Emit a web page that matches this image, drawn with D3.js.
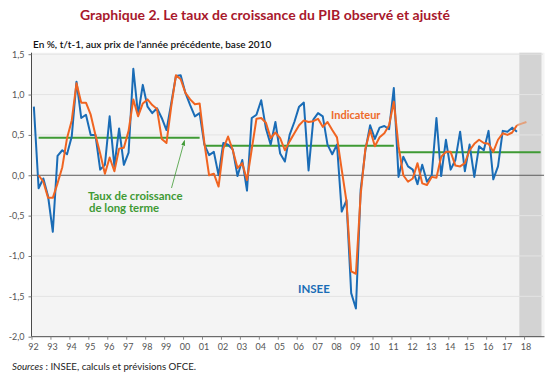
<!DOCTYPE html>
<html><head><meta charset="utf-8">
<script src="https://cdn.jsdelivr.net/npm/d3@7"></script>
<style>body{margin:0;background:#fff}svg{display:block}</style>
</head><body>
<svg id="c" width="550" height="376"></svg>
<script>
// ---- data ----
const startYear = 1992;
const nQuarters = 108; // 1992Q1 .. 2018Q4
const yearLabels = ["92","93","94","95","96","97","98","99","00","01","02","03","04","05","06","07","08","09","10","11","12","13","14","15","16","17","18"];
const yTicks = [1.5, 1.0, 0.5, 0.0, -0.5, -1.0, -1.5, -2.0];

// INSEE, from 1992Q1 to 2017Q3
const insee = [0.85,-0.16,-0.04,-0.26,-0.70,0.24,0.31,0.26,0.48,1.16,0.71,0.75,0.50,0.50,0.07,0.13,
0.73,0.11,0.58,0.13,0.28,1.32,0.75,1.12,0.85,0.77,0.83,0.71,0.56,0.89,1.23,1.24,1.02,0.87,0.73,0.77,
0.38,0.25,0.29,0.00,0.40,0.38,0.32,-0.01,0.19,-0.19,0.71,0.75,0.93,0.58,0.38,0.66,0.27,0.17,0.50,0.66,
0.85,0.90,0.06,0.69,0.77,0.73,0.38,0.26,0.38,-0.45,-0.31,-1.46,-1.65,-0.18,0.31,0.62,0.45,0.59,0.61,0.57,
1.08,-0.02,0.23,0.11,0.07,-0.11,0.13,-0.08,0.00,0.71,-0.01,0.44,0.07,0.19,0.54,0.05,0.38,-0.02,0.36,0.31,
0.55,-0.05,0.11,0.55,0.54,0.59,0.54];
// Indicateur, from 1992Q2 to 2018Q1 (last two quarters = prévision)
const indicStart = 1;
const indicateur = [0.00,-0.08,-0.28,-0.28,-0.10,0.10,0.46,0.68,1.14,0.90,0.90,0.75,0.50,0.27,0.02,
0.22,0.05,0.33,0.34,0.55,0.94,0.73,0.89,0.94,0.87,0.82,0.45,0.40,0.85,1.24,1.19,1.02,0.94,0.88,0.89,
0.40,0.00,0.02,-0.14,0.33,0.48,0.31,0.09,0.15,-0.06,0.32,0.70,0.71,0.65,0.46,0.53,0.46,0.31,0.42,0.52,
0.62,0.68,0.66,0.67,0.70,0.60,0.66,0.56,0.47,0.07,-0.32,-1.19,-1.22,-0.24,0.33,0.56,0.36,0.47,0.52,0.62,
0.91,0.36,0.00,-0.08,-0.04,0.15,-0.10,-0.12,-0.02,-0.03,0.23,0.29,0.29,0.12,0.11,0.15,0.31,0.39,0.44,
0.40,0.39,0.29,0.44,0.52,0.50,0.53,0.62,0.64,0.66];
const forecastFrom = 102; // quarter index where the forecast segment begins
// Long-term growth rate: [first quarter index, last quarter index, value]
const longTerm = [[1,35,0.466],[36,76,0.367],[77,107,0.285]];
const shadeStart = 103; // 2017Q4 onwards shaded

// ---- layout ----
const svg = d3.select("#c");
const L = 31.5, R = 543, T = 54.2, B = 336.7;
const x = d3.scaleLinear().domain([0, nQuarters]).range([L, R]);
const xc = i => x(i + 0.5);
const y = d3.scaleLinear().domain([-2, 1.5]).range([B, T]);
const font = "Lato, 'Open Sans', sans-serif";

svg.append("rect").attr("width",550).attr("height",376).attr("fill","#fff");

// title
svg.append("text").attr("x",265).attr("y",19.5).attr("text-anchor","middle")
  .attr("font-family",font).attr("font-weight","bold").attr("font-size",14)
  .attr("fill","#a8182c").text("Graphique 2. Le taux de croissance du PIB observé et ajusté");
svg.append("text").attr("x",33).attr("y",47.5)
  .attr("font-family",font).attr("font-weight",600).attr("font-size",10)
  .attr("fill","#111").text("En %, t/t-1, aux prix de l’année précédente, base 2010");

// plot background
svg.append("rect").attr("x",L).attr("y",T-1.5).attr("width",R-L+1.5).attr("height",B-T+1.5).attr("fill","#f4f4f4");
svg.append("rect").attr("x",x(shadeStart)).attr("y",T-1.5).attr("width",x(nQuarters)-x(shadeStart)-1.5)
  .attr("height",B-T+1.5).attr("fill","#d3d3d3");

// grid
svg.append("g").selectAll("line").data(yTicks.filter(v=>v!==0 && v!==-2)).join("line")
  .attr("x1",L).attr("x2",R).attr("y1",d=>y(d)).attr("y2",d=>y(d))
  .attr("stroke","#e3e3e3").attr("stroke-width",1);
svg.append("line").attr("x1",L).attr("x2",R+1).attr("y1",y(0)).attr("y2",y(0))
  .attr("stroke","#5c5c5c").attr("stroke-width",1);

// axes
const yAxis = d3.axisLeft(y).tickValues(yTicks).tickSize(3).tickPadding(4)
  .tickFormat(d => d3.format(".1f")(d).replace(".", ",").replace("−","-"));
const gy = svg.append("g").attr("transform",`translate(${L},0)`).call(yAxis);
gy.select(".domain").attr("stroke","#4a4a4a").attr("d",`M-0,${T-1.5}V${B}`);
gy.selectAll(".tick line").attr("stroke","#777");
gy.selectAll("text").attr("font-family",font).attr("font-size",9).attr("fill","#555");

const years = d3.range(yearLabels.length);
const xAxis = d3.axisBottom(x).tickValues(years.map(k=>k*4)).tickSize(3).tickPadding(4)
  .tickFormat((d,k)=>yearLabels[k]);
const gx = svg.append("g").attr("transform",`translate(0,${B})`).call(xAxis);
gx.select(".domain").attr("stroke","#4a4a4a").attr("d",`M${L},0H${R+1.5}`);
gx.selectAll(".tick line").attr("stroke","#888");
gx.selectAll("text").attr("font-family",font).attr("font-size",9).attr("fill","#555").attr("dx",1.5);

// long-term lines
longTerm.forEach(s => {
  svg.append("line").attr("x1",xc(s[0])).attr("x2",xc(s[1])).attr("y1",y(s[2])).attr("y2",y(s[2]))
    .attr("stroke","#3f9a34").attr("stroke-width",2);
});

const line = d3.line().x(d=>xc(d[0])).y(d=>y(d[1]));
const inseePts = insee.map((v,i)=>[i,v]);
const indicPts = indicateur.map((v,i)=>[i+indicStart,v]);

svg.append("path").attr("d",line(indicPts.filter(p=>p[0]>=forecastFrom)))
  .attr("fill","none").attr("stroke","#e3a07c").attr("stroke-width",2);
svg.append("path").attr("d",line(inseePts)).attr("fill","none")
  .attr("stroke","#1a6cb6").attr("stroke-width",2).attr("stroke-linejoin","round");
svg.append("path").attr("d",line(indicPts.filter(p=>p[0]<=forecastFrom))).attr("fill","none")
  .attr("stroke","#f06421").attr("stroke-width",2).attr("stroke-linejoin","round");

// annotations
svg.append("text").attr("x",331).attr("y",119).attr("font-family",font).attr("font-weight","bold")
  .attr("font-size",11).attr("fill","#ee6a2a").text("Indicateur");
svg.append("text").attr("x",298).attr("y",293).attr("font-family",font).attr("font-weight","bold")
  .attr("font-size",11.5).attr("fill","#1a6cb6").text("INSEE");
const lt = svg.append("text").attr("font-family",font).attr("font-weight","bold")
  .attr("font-size",11.4).attr("fill","#3f9a34");
lt.append("tspan").attr("x",88).attr("y",199.5).text("Taux de croissance");
lt.append("tspan").attr("x",89).attr("y",211.5).text("de long terme");

svg.append("defs").append("marker").attr("id","ah").attr("viewBox","0 0 10 10")
  .attr("refX",9).attr("refY",5).attr("markerWidth",7).attr("markerHeight",7).attr("orient","auto")
  .append("path").attr("d","M0,1.5L10,5L0,8.5z").attr("fill","#3f9a34");
svg.append("line").attr("x1",171.5).attr("y1",188).attr("x2",184.5).attr("y2",140.5)
  .attr("stroke","#3f9a34").attr("stroke-width",0.8).attr("marker-end","url(#ah)");

// source
const src = svg.append("text").attr("x",12).attr("y",370).attr("font-family",font)
  .attr("font-size",9.7).attr("fill","#222");
src.append("tspan").attr("font-style","italic").text("Sources");
src.append("tspan").text(" : INSEE, calculs et prévisions OFCE.");
</script>
</body></html>
